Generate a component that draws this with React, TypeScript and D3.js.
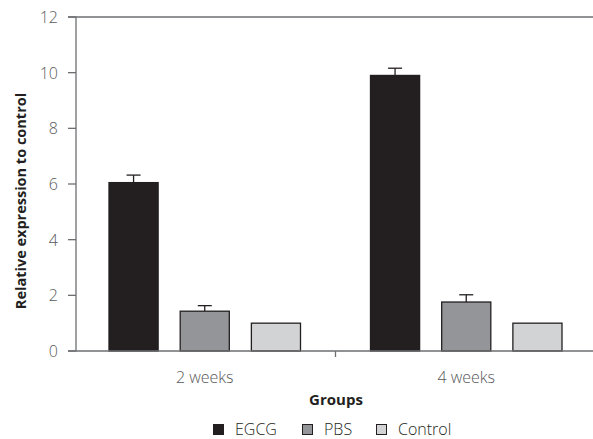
import * as d3 from "d3";

const groups = ["2 weeks", "4 weeks"];
const series = ["EGCG", "PBS", "Control"];
const egcg = [6.05, 9.9];
const pbs = [1.43, 1.76];
const control = [1.0, 1.0];
const egcgErr = [0.27, 0.26];
const pbsErr = [0.2, 0.26];
const controlErr = [0, 0];
const yTicks = [0, 2, 4, 6, 8, 10, 12];

const colors = ["#231f20", "#939598", "#d1d3d4"];

export default function App() {
  const width = 593;
  const height = 439;
  const left = 76;
  const top = 17;
  const bottom = 351;
  const right = 597;

  const values = [egcg, pbs, control];
  const errs = [egcgErr, pbsErr, controlErr];

  const x = d3.scaleBand().domain(groups).range([left - 2, right]);
  const inner = d3.scaleBand().domain(series).range([35, x.bandwidth() - 35]).paddingInner(0.31);
  const y = d3.scaleLinear().domain([0, 12]).range([bottom, top]);

  const font = "'Open Sans', 'DejaVu Sans', sans-serif";
  const axisColor = "#6d6e71";
  const textColor = "#58595b";

  const legendX = [213, 302, 376];

  return (
    <div style={{ position: "absolute", left: 0, top: 0 }}>
      <svg width={width} height={height} style={{ display: "block", fontFamily: font }}>
        {/* bars */}
        {groups.map((g, gi) =>
          series.map((s, si) => {
            const bx = (x(g) ?? 0) + (inner(s) ?? 0);
            const bw = inner.bandwidth();
            const v = values[si][gi];
            const e = errs[si][gi];
            const cx = bx + bw / 2;
            return (
              <g key={g + s}>
                {e > 0 && (
                  <>
                    <line x1={cx} x2={cx} y1={y(v)} y2={y(v + e)} stroke="#231f20" strokeWidth={1.3} />
                    <line x1={cx - 7} x2={cx + 7} y1={y(v + e)} y2={y(v + e)} stroke="#231f20" strokeWidth={1.3} />
                  </>
                )}
                <rect
                  x={bx}
                  y={y(v)}
                  width={bw}
                  height={y(0) - y(v)}
                  fill={colors[si]}
                  stroke="#231f20"
                  strokeWidth={1.3}
                />
              </g>
            );
          })
        )}

        {/* axes */}
        <line x1={left} x2={left} y1={top} y2={bottom} stroke={axisColor} strokeWidth={1.3} />
        <line x1={left - 8} x2={width} y1={top} y2={top} stroke={axisColor} strokeWidth={1.3} />
        <line x1={left - 8} x2={width} y1={bottom} y2={bottom} stroke={axisColor} strokeWidth={1.3} />
        {yTicks.map((t) => (
          <g key={t}>
            <line x1={left - 8} x2={left} y1={y(t)} y2={y(t)} stroke={axisColor} strokeWidth={1.3} />
            <text
              x={left - 18}
              y={y(t)}
              textAnchor="end"
              dominantBaseline="central"
              fontSize={16}
              fontWeight={300}
              fill={textColor}
            >
              {t}
            </text>
          </g>
        ))}
        <line x1={x(groups[1])} x2={x(groups[1])} y1={bottom} y2={bottom + 6} stroke={axisColor} strokeWidth={1.3} />
        {groups.map((g) => (
          <text
            key={g}
            x={(x(g) ?? 0) + x.bandwidth() / 2}
            y={383}
            textAnchor="middle"
            fontSize={16}
            fontWeight={300}
            fill={textColor}
          >
            {g}
          </text>
        ))}

        <text x={336} y={405} textAnchor="middle" fontSize={15} fontWeight={700} fill="#231f20">
          Groups
        </text>
        <text
          transform={`translate(26, ${(top + bottom) / 2 + 17}) rotate(-90)`}
          textAnchor="middle"
          fontSize={14.5}
          fontWeight={700}
          fill="#231f20"
        >
          Relative expression to control
        </text>

        {/* legend */}
        {series.map((s, i) => (
          <g key={s} transform={`translate(${legendX[i]}, 424)`}>
            <rect x={0.5} y={0.5} width={10} height={10} fill={colors[i]} stroke="#231f20" strokeWidth={1} />
            <text x={22} y={11} fontSize={16} fontWeight={300} fill="#231f20">
              {s}
            </text>
          </g>
        ))}
      </svg>
    </div>
  );
}
